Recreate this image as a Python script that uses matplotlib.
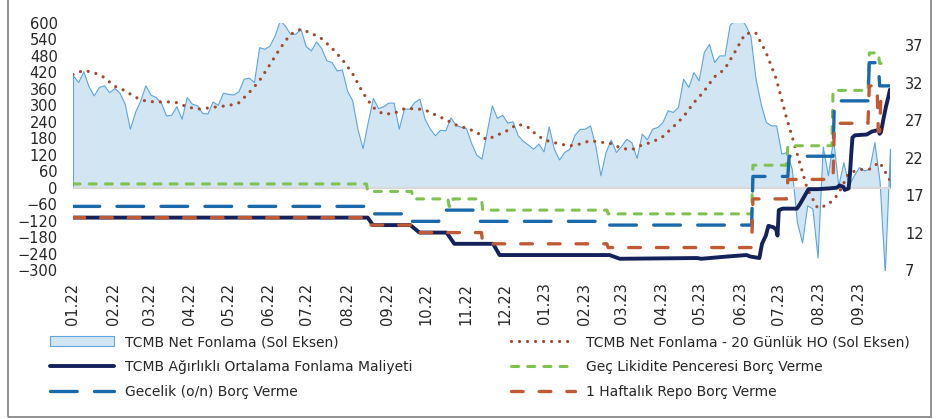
"""
TCMB net fonlama ve fonlama faizleri grafiği.
"""

import pandas as pd
import matplotlib
matplotlib.use("Agg")
import matplotlib.pyplot as plt
from matplotlib.lines import Line2D
from matplotlib.patches import Patch, Rectangle

# TCMB net fonlama (sol eksen), 2022-01-01'den itibaren 4 günde bir okunan değerler
net_funding = [
    409, 385, 424, 370, 336, 367, 373, 348, 363, 346,
    306, 215, 276, 318, 373, 339, 330, 310, 263, 266,
    297, 251, 330, 306, 300, 272, 270, 314, 302, 346,
    342, 339, 351, 397, 401, 385, 512, 506, 518, 555,
    610, 590, 561, 561, 579, 516, 500, 533, 509, 464,
    458, 427, 431, 354, 318, 215, 144, 239, 327, 290,
    297, 310, 310, 215, 288, 288, 312, 324, 251, 215,
    191, 211, 209, 256, 229, 222, 217, 163, 120, 106,
    203, 300, 254, 266, 237, 242, 191, 171, 157, 142,
    161, 132, 223, 142, 103, 130, 142, 193, 214, 215,
    227, 154, 45, 130, 175, 130, 152, 178, 166, 108,
    197, 176, 215, 221, 239, 282, 276, 294, 397, 367,
    421, 391, 494, 524, 458, 482, 482, 594, 610, 620,
    594, 555, 397, 306, 239, 227, 227, 124, 130, 69,
    -125, -200, -64, -76, -255, 150, 45, 178, 8, 93,
    8, 45, 75, 63, 69, 166, 21, -310, 142,
]

# 20 günlük hareketli ortalama (sol eksen), 8 günde bir okunan değerler
net_funding_ma = [
    412, 427, 420, 402, 370, 354, 330, 316, 312, 313,
    310, 295, 286, 290, 295, 299, 308, 345, 388, 446,
    506, 558, 577, 564, 544, 510, 469, 418, 348, 293,
    268, 270, 287, 288, 284, 266, 249, 229, 217, 203,
    175, 191, 208, 232, 220, 187, 169, 160, 152, 159,
    171, 166, 161, 144, 138, 155, 166, 185, 220, 257,
    308, 350, 403, 431, 494, 561, 565, 494, 397, 254,
    127, -4, -74, -63, -24, 52, 66, 67, 93, 27,
]

# TCMB ağırlıklı ortalama fonlama maliyeti (sağ eksen, %)
aofm_dates = [
    "2022-01-01", "2022-08-17", "2022-08-21", "2022-09-19", "2022-09-26",
    "2022-10-17", "2022-10-23", "2022-11-22", "2022-11-27", "2023-02-20",
    "2023-02-28", "2023-04-29", "2023-05-02", "2023-05-22", "2023-06-06",
    "2023-06-09", "2023-06-16", "2023-06-18", "2023-06-21", "2023-06-23",
    "2023-06-27", "2023-06-29", "2023-06-30", "2023-07-01", "2023-07-04",
    "2023-07-15", "2023-07-17", "2023-07-21", "2023-07-24", "2023-07-31",
    "2023-08-09", "2023-08-15", "2023-08-17", "2023-08-20", "2023-08-21",
    "2023-08-24", "2023-08-25", "2023-08-26", "2023-08-27", "2023-08-29",
    "2023-09-07", "2023-09-11", "2023-09-16", "2023-09-17", "2023-09-18",
    "2023-09-20", "2023-09-22", "2023-09-24", "2023-09-25",
]
aofm = [
    14.0, 14.0, 13.0, 13.0, 12.0, 12.0, 10.5, 10.5, 9.0, 9.0,
    8.5, 8.6, 8.5, 8.8, 9.0, 8.8, 8.6, 10.5, 11.6, 12.9,
    12.7, 12.4, 11.6, 15.0, 15.2, 15.2, 15.7, 16.9, 17.8, 17.8,
    17.9, 18.0, 18.3, 18.1, 17.7, 17.9, 19.7, 22.4, 24.7, 25.0,
    25.1, 25.5, 25.7, 25.2, 25.4, 27.2, 28.9, 30.3, 31.1,
]

# Geç likidite penceresi borç verme (%)
late_dates = [
    "2022-01-01", "2022-08-16", "2022-08-17", "2022-09-20", "2022-09-21",
    "2022-10-18", "2022-10-19", "2022-10-21", "2022-10-22", "2022-11-13",
    "2022-11-14", "2023-02-18", "2023-02-19", "2023-06-10", "2023-06-11",
    "2023-07-07", "2023-07-08", "2023-08-11", "2023-08-12", "2023-09-08",
    "2023-09-09", "2023-09-16", "2023-09-17", "2023-09-23",
]
late_rate = [
    18.5, 18.5, 17.5, 17.5, 16.5, 16.5, 15.5, 15.5, 16.5, 16.5,
    15.0, 15.0, 14.5, 14.5, 21.0, 21.0, 23.6, 23.6, 31.0, 31.0,
    36.0, 36.0, 34.6, 34.6,
]

# Gecelik (o/n) borç verme (%)
overnight_dates = [
    "2022-01-01", "2022-08-16", "2022-08-17", "2022-09-19", "2022-09-20",
    "2022-10-11", "2022-10-12", "2022-11-11", "2022-11-12", "2023-02-18",
    "2023-02-19", "2023-06-10", "2023-06-11", "2023-07-08", "2023-07-09",
    "2023-08-12", "2023-08-13", "2023-09-08", "2023-09-09", "2023-09-16",
    "2023-09-17", "2023-09-25",
]
overnight_rate = [
    15.5, 15.5, 14.5, 14.5, 13.5, 13.5, 15.0, 15.0, 13.5, 13.5,
    13.0, 13.0, 19.5, 19.5, 22.2, 22.2, 29.6, 29.6, 34.7, 34.7,
    31.6, 31.6,
]

# 1 haftalık repo borç verme (%)
repo_dates = [
    "2022-01-01", "2022-08-17", "2022-08-18", "2022-09-21", "2022-09-22",
    "2022-11-13", "2022-11-14", "2023-02-18", "2023-02-19", "2023-06-10",
    "2023-06-11", "2023-07-07", "2023-07-08", "2023-08-12", "2023-08-13",
    "2023-09-08", "2023-09-09", "2023-09-15", "2023-09-16", "2023-09-17",
    "2023-09-18", "2023-09-23",
]
repo_rate = [
    14.0, 14.0, 13.0, 13.0, 12.0, 12.0, 10.5, 10.5, 10.0, 10.0,
    16.5, 16.5, 19.1, 19.1, 26.6, 26.6, 31.6, 31.6, 25.5, 25.5,
    30.1, 30.1,
]

labels_left = [
    "TCMB Net Fonlama (Sol Eksen)",
    "TCMB Ağırlıklı Ortalama Fonlama Maliyeti",
    "Gecelik (o/n) Borç Verme",
]
labels_right = [
    "TCMB Net Fonlama - 20 Günlük HO (Sol Eksen)",
    "Geç Likidite Penceresi Borç Verme",
    "1 Haftalık Repo Borç Verme",
]

# colours / styles
AREA_FILL = "#d2e5f2"
AREA_EDGE = "#5ea5dc"
MA_COLOR = "#a04a30"
NAVY = "#15215a"
GREEN = "#80c250"
BLUE = "#1a6aab"
ORANGE = "#c05a35"
TEXT = "#262626"

ma_style = dict(color=MA_COLOR, lw=2.3, linestyle=(0, (0.01, 2.5)), dash_capstyle="round")
navy_style = dict(color=NAVY, lw=2.8, solid_joinstyle="round", solid_capstyle="round")
green_style = dict(color=GREEN, lw=2.2, linestyle=(0, (2.3, 3.0)), dash_capstyle="round")
blue_style = dict(color=BLUE, lw=2.4, linestyle=(0, (8.0, 5.2)), dash_capstyle="round")
orange_style = dict(color=ORANGE, lw=2.4, linestyle=(0, (3.5, 4.8)), dash_capstyle="round")


def main():
    fig = plt.figure(figsize=(9.37, 4.19), dpi=100)
    ax = fig.add_axes([0.0779, 0.3556, 0.8719, 0.5895])
    ax2 = ax.twinx()

    funding_dates = pd.date_range("2022-01-01", periods=len(net_funding), freq="4D")
    ma_dates = pd.date_range("2022-01-01", periods=len(net_funding_ma), freq="8D")

    # left axis: net funding area + moving average
    ax.fill_between(funding_dates, 0, net_funding, facecolor=AREA_FILL,
                    edgecolor=AREA_EDGE, linewidth=0.8)
    ax.axhline(0, color="#d9d9d9", lw=1.6)
    ax.plot(ma_dates, net_funding_ma, **ma_style)

    # right axis: rates
    ax2.plot(pd.to_datetime(aofm_dates), aofm, **navy_style)
    ax2.plot(pd.to_datetime(late_dates), late_rate, **green_style)
    ax2.plot(pd.to_datetime(overnight_dates), overnight_rate, **blue_style)
    ax2.plot(pd.to_datetime(repo_dates), repo_rate, **orange_style)

    ax.set_ylim(-300, 600)
    ax.set_yticks(range(-300, 601, 60))
    ax2.set_ylim(7, 40)
    ax2.set_yticks(range(7, 38, 5))

    month_ticks = pd.date_range("2022-01-01", "2023-09-01", freq="MS")
    ax.set_xlim(pd.Timestamp("2022-01-01"), pd.Timestamp("2023-09-25"))
    ax.set_xticks(month_ticks)
    ax.set_xticklabels([d.strftime("%m.%y") for d in month_ticks], rotation=90)

    for a in (ax, ax2):
        for s in a.spines.values():
            s.set_visible(False)
        a.tick_params(length=0, labelsize=10.5, colors=TEXT)
    ax.tick_params(axis="y", pad=11)
    ax2.tick_params(axis="y", pad=11)
    ax.tick_params(axis="x", pad=9)

    # legend, two columns
    left_handles = [
        Patch(facecolor=AREA_FILL, edgecolor=AREA_EDGE, lw=0.8),
        Line2D([], [], **navy_style),
        Line2D([], [], **blue_style),
    ]
    right_handles = [
        Line2D([], [], **ma_style),
        Line2D([], [], **green_style),
        Line2D([], [], **orange_style),
    ]
    legend_kw = dict(loc="upper left", frameon=False, fontsize=10, handlelength=4.6,
                     handletextpad=0.8, labelspacing=0.77, borderpad=0, borderaxespad=0,
                     labelcolor=TEXT)
    fig.legend(left_handles, labels_left, bbox_to_anchor=(0.053, 0.200), **legend_kw)
    fig.legend(right_handles, labels_right, bbox_to_anchor=(0.545, 0.200), **legend_kw)

    # frame around the chart
    fig.add_artist(Rectangle((0.0085, 0.005), 0.985, 1.5, transform=fig.transFigure,
                             fill=False, edgecolor="#7f7f7f", lw=1.2))

    fig.savefig("out.png", dpi=100)


if __name__ == "__main__":
    main()
